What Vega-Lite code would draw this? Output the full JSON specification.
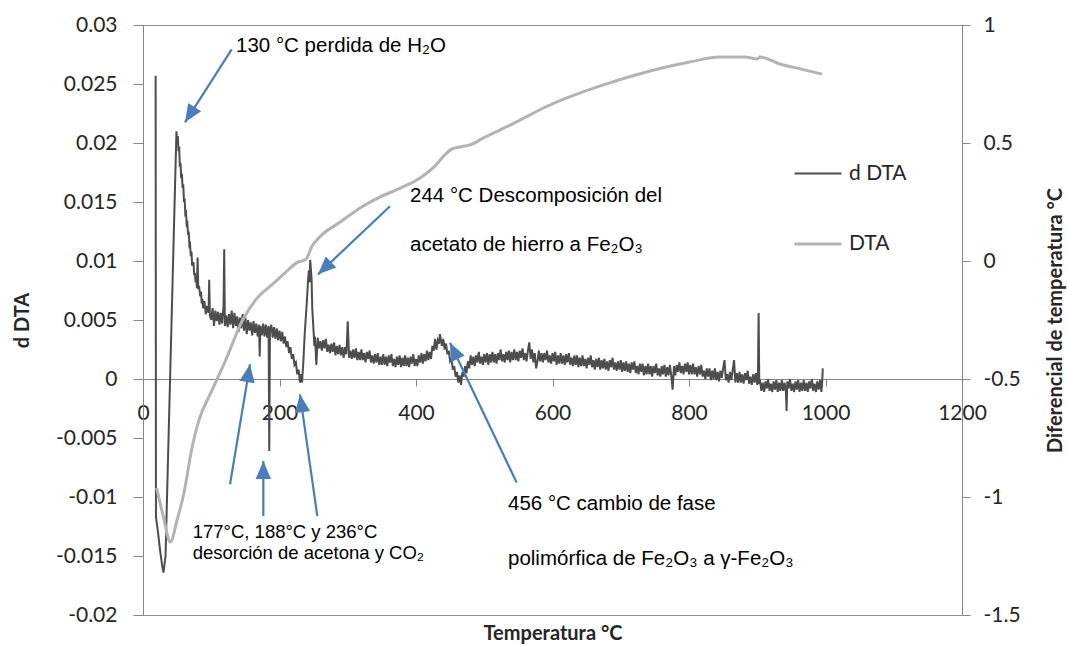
{
"$schema": "https://vega.github.io/schema/vega-lite/v6.json",
"width": 819, "height": 590,
"autosize": "none",
"padding": {"left": 143, "top": 25, "right": 105, "bottom": 30},
"background": "white",
"config": {
  "view": {"stroke": "#8c8c8c", "strokeWidth": 1},
  "font": "Lato",
  "axis": {"grid": false, "labelFont": "Lato", "labelFontSize": 21, "labelColor": "#262626", "domainColor": "#868686", "tickColor": "#868686", "titleFont": "Lato", "titleFontWeight": "bold", "titleFontSize": 20, "titleColor": "#262626", "labelOverlap": false, "labelFlush": false}
},
"datasets": {
  "ddta": [
    {"t":18.5,"d":0.0257},{"t":19,"d":-0.0117},{"t":22,"d":-0.0130},{"t":25,"d":-0.0145},{"t":28,"d":-0.0158},{"t":30,"d":-0.0164},{"t":33,"d":-0.0150},
    {"t":49,"d":0.0210},{"t":50,"d":0.0200},{"t":51,"d":0.0206},{"t":52,"d":0.0193},{"t":53,"d":0.0197},{"t":54,"d":0.0180},{"t":55,"d":0.0183},{"t":56,"d":0.0170},{"t":57,"d":0.0174},{"t":58,"d":0.0162},{"t":59,"d":0.0165},{"t":60,"d":0.0150},{"t":61,"d":0.0153},{"t":62,"d":0.0140},{"t":63,"d":0.0141},{"t":64,"d":0.0131},{"t":65,"d":0.0132},{"t":66,"d":0.0122},{"t":67,"d":0.0125},{"t":68,"d":0.0113},{"t":69,"d":0.0114},{"t":70,"d":0.0104},{"t":71,"d":0.0108},{"t":72,"d":0.0096},{"t":74,"d":0.0099},{"t":75,"d":0.0088},{"t":76,"d":0.0090},{"t":77,"d":0.0082},{"t":78,"d":0.0086},{"t":79,"d":0.0077},{"t":80,"d":0.0103},{"t":81,"d":0.0076},{"t":82,"d":0.0079},{"t":84,"d":0.0070},{"t":85,"d":0.0074},{"t":86,"d":0.0064},{"t":87,"d":0.0068},{"t":88,"d":0.0060},{"t":90,"d":0.0066},{"t":92,"d":0.0055},{"t":94,"d":0.0062},{"t":96,"d":0.0056},{"t":97,"d":0.0084},{"t":98,"d":0.0054},{"t":100,"d":0.0050},{"t":102,"d":0.0060},{"t":104,"d":0.0045},{"t":106,"d":0.0058},{"t":108,"d":0.0049},{"t":110,"d":0.0057},{"t":112,"d":0.0046},{"t":114,"d":0.0056},{"t":116,"d":0.0047},{"t":118,"d":0.0062},{"t":119,"d":0.0110},{"t":120,"d":0.0045},{"t":122,"d":0.0054},{"t":124,"d":0.0044},{"t":126,"d":0.0055},{"t":128,"d":0.0046},{"t":130,"d":0.0058},{"t":132,"d":0.0043},{"t":134,"d":0.0056},{"t":136,"d":0.0045},{"t":138,"d":0.0053},{"t":140,"d":0.0040},{"t":142,"d":0.0052},{"t":144,"d":0.0043},{"t":146,"d":0.0055},{"t":148,"d":0.0041},{"t":150,"d":0.0052},{"t":152,"d":0.0038},{"t":154,"d":0.0050},{"t":156,"d":0.0041},{"t":158,"d":0.0048},{"t":160,"d":0.0037},{"t":162,"d":0.0049},{"t":164,"d":0.0039},{"t":166,"d":0.0047},{"t":168,"d":0.0036},{"t":170,"d":0.0046},{"t":171,"d":0.0019},{"t":172,"d":0.0045},{"t":174,"d":0.0037},{"t":176,"d":0.0047},{"t":178,"d":0.0036},{"t":180,"d":0.0046},{"t":182,"d":0.0035},{"t":184,"d":0.0045},{"t":185,"d":-0.0061},{"t":186,"d":0.0040},{"t":188,"d":0.0046},{"t":190,"d":0.0035},{"t":192,"d":0.0044},{"t":194,"d":0.0034},{"t":196,"d":0.0043},{"t":198,"d":0.0033},{"t":200,"d":0.0041},{"t":202,"d":0.0032},{"t":204,"d":0.0040},{"t":206,"d":0.0030},{"t":208,"d":0.0036},{"t":210,"d":0.0027},{"t":212,"d":0.0032},{"t":214,"d":0.0022},{"t":216,"d":0.0027},{"t":218,"d":0.0017},{"t":220,"d":0.0021},{"t":222,"d":0.0012},{"t":224,"d":0.0014},{"t":226,"d":0.0004},{"t":228,"d":0.0008},{"t":230,"d":-0.0003},{"t":232,"d":0.0004},{"t":233,"d":-0.0003},{"t":235,"d":0.0015},{"t":237,"d":0.0039},{"t":240,"d":0.0065},{"t":242,"d":0.0085},{"t":243,"d":0.0092},{"t":244,"d":0.0082},{"t":245,"d":0.0101},{"t":247,"d":0.0085},{"t":248,"d":0.0060},{"t":250,"d":0.0040},{"t":251,"d":0.0028},{"t":252,"d":0.0036},{"t":254,"d":0.0012},
    {"t":256,"d":0.0035},{"t":258,"d":0.0026},{"t":260,"d":0.0032},{"t":262,"d":0.0024},{"t":264,"d":0.0033},{"t":266,"d":0.0026},{"t":268,"d":0.0034},{"t":270,"d":0.0023},{"t":272,"d":0.0029},{"t":274,"d":0.0022},{"t":276,"d":0.0030},{"t":278,"d":0.0023},{"t":280,"d":0.0031},{"t":282,"d":0.0020},{"t":284,"d":0.0028},{"t":286,"d":0.0021},{"t":288,"d":0.0029},{"t":290,"d":0.0020},{"t":292,"d":0.0027},{"t":294,"d":0.0018},{"t":296,"d":0.0027},{"t":298,"d":0.0021},{"t":300,"d":0.0049},{"t":302,"d":0.0018},{"t":304,"d":0.0024},{"t":306,"d":0.0017},{"t":308,"d":0.0025},{"t":310,"d":0.0018},{"t":312,"d":0.0026},{"t":314,"d":0.0016},{"t":316,"d":0.0023},{"t":318,"d":0.0016},{"t":320,"d":0.0025},{"t":322,"d":0.0016},{"t":324,"d":0.0022},{"t":326,"d":0.0014},{"t":328,"d":0.0023},{"t":330,"d":0.0017},{"t":332,"d":0.0024},{"t":334,"d":0.0014},{"t":336,"d":0.0020},{"t":338,"d":0.0013},{"t":340,"d":0.0021},{"t":342,"d":0.0014},{"t":344,"d":0.0022},{"t":346,"d":0.0012},{"t":348,"d":0.0019},{"t":350,"d":0.0012},{"t":352,"d":0.0021},{"t":354,"d":0.0012},{"t":356,"d":0.0019},{"t":358,"d":0.0011},{"t":360,"d":0.0020},{"t":362,"d":0.0014},{"t":364,"d":0.0021},{"t":366,"d":0.0011},{"t":368,"d":0.0017},{"t":370,"d":0.0010},{"t":372,"d":0.0019},{"t":374,"d":0.0012},{"t":376,"d":0.0020},{"t":378,"d":0.0010},{"t":380,"d":0.0018},{"t":382,"d":0.0011},{"t":384,"d":0.0020},{"t":386,"d":0.0011},{"t":388,"d":0.0018},{"t":390,"d":0.0010},{"t":392,"d":0.0019},{"t":394,"d":0.0013},{"t":396,"d":0.0021},{"t":398,"d":0.0011},{"t":400,"d":0.0017},{"t":402,"d":0.0011},{"t":404,"d":0.0020},{"t":406,"d":0.0014},{"t":408,"d":0.0022},{"t":410,"d":0.0013},{"t":412,"d":0.0021},{"t":414,"d":0.0015},{"t":416,"d":0.0024},{"t":418,"d":0.0016},{"t":420,"d":0.0023},{"t":422,"d":0.0017},{"t":424,"d":0.0028},{"t":426,"d":0.0024},{"t":428,"d":0.0034},{"t":430,"d":0.0025},{"t":432,"d":0.0033},{"t":434,"d":0.0030},{"t":435,"d":0.0038},{"t":436,"d":0.0035},{"t":438,"d":0.0028},{"t":440,"d":0.0034},{"t":442,"d":0.0025},{"t":444,"d":0.0030},{"t":446,"d":0.0021},{"t":448,"d":0.0024},{"t":450,"d":0.0015},{"t":452,"d":0.0017},{"t":454,"d":0.0008},{"t":456,"d":0.0011},{"t":458,"d":0.0002},{"t":460,"d":0.0006},{"t":462,"d":-0.0003},{"t":464,"d":0.0003},{"t":466,"d":-0.0005},{"t":468,"d":0.0006},{"t":470,"d":0.0002},{"t":472,"d":0.0011},{"t":474,"d":0.0005},{"t":476,"d":0.0015},{"t":478,"d":0.0009},{"t":480,"d":0.0020},{"t":482,"d":0.0012},{"t":484,"d":0.0019},{"t":486,"d":0.0011},{"t":488,"d":0.0020},{"t":490,"d":0.0014},{"t":492,"d":0.0023},{"t":494,"d":0.0013},{"t":496,"d":0.0019},{"t":498,"d":0.0012},{"t":500,"d":0.0021},{"t":502,"d":0.0014},{"t":504,"d":0.0022},{"t":506,"d":0.0012},{"t":508,"d":0.0021},{"t":510,"d":0.0014},{"t":512,"d":0.0023},{"t":514,"d":0.0014},{"t":516,"d":0.0021},{"t":518,"d":0.0013},{"t":520,"d":0.0022},{"t":522,"d":0.0016},{"t":524,"d":0.0025},{"t":526,"d":0.0015},{"t":528,"d":0.0021},{"t":530,"d":0.0014},{"t":532,"d":0.0023},{"t":534,"d":0.0016},{"t":536,"d":0.0024},{"t":538,"d":0.0014},{"t":540,"d":0.0023},{"t":542,"d":0.0016},{"t":544,"d":0.0025},{"t":546,"d":0.0016},{"t":548,"d":0.0023},{"t":550,"d":0.0015},{"t":552,"d":0.0024},{"t":554,"d":0.0018},{"t":556,"d":0.0026},{"t":558,"d":0.0016},{"t":560,"d":0.0022},{"t":562,"d":0.0015},{"t":564,"d":0.0024},{"t":566,"d":0.0031},{"t":568,"d":0.0017},{"t":570,"d":0.0025},{"t":572,"d":0.0014},{"t":574,"d":0.0022},{"t":576,"d":0.0009},{"t":578,"d":0.0015},{"t":580,"d":0.0024},{"t":582,"d":0.0015},{"t":584,"d":0.0022},{"t":586,"d":0.0014},{"t":588,"d":0.0022},{"t":590,"d":0.0016},{"t":592,"d":0.0024},{"t":594,"d":0.0014},{"t":596,"d":0.0020},{"t":598,"d":0.0013},{"t":600,"d":0.0022},{"t":602,"d":0.0015},{"t":604,"d":0.0023},{"t":606,"d":0.0012},{"t":608,"d":0.0020},{"t":610,"d":0.0013},{"t":612,"d":0.0022},{"t":614,"d":0.0013},{"t":616,"d":0.0020},{"t":618,"d":0.0012},{"t":620,"d":0.0021},{"t":622,"d":0.0014},{"t":624,"d":0.0022},{"t":626,"d":0.0012},{"t":628,"d":0.0018},{"t":630,"d":0.0011},{"t":632,"d":0.0020},{"t":634,"d":0.0012},{"t":636,"d":0.0020},{"t":638,"d":0.0010},{"t":640,"d":0.0018},{"t":642,"d":0.0011},{"t":644,"d":0.0020},{"t":646,"d":0.0011},{"t":648,"d":0.0017},{"t":650,"d":0.0009},{"t":652,"d":0.0018},{"t":654,"d":0.0012},{"t":656,"d":0.0020},{"t":658,"d":0.0010},{"t":660,"d":0.0016},{"t":662,"d":0.0008},{"t":664,"d":0.0017},{"t":666,"d":0.0010},{"t":668,"d":0.0018},{"t":670,"d":0.0008},{"t":672,"d":0.0016},{"t":674,"d":0.0009},{"t":676,"d":0.0017},{"t":678,"d":0.0008},{"t":680,"d":0.0015},{"t":682,"d":0.0007},{"t":684,"d":0.0016},{"t":686,"d":0.0010},{"t":688,"d":0.0018},{"t":690,"d":0.0008},{"t":692,"d":0.0014},{"t":694,"d":0.0007},{"t":696,"d":0.0015},{"t":698,"d":0.0008},{"t":700,"d":0.0016},{"t":702,"d":0.0006},{"t":704,"d":0.0014},{"t":706,"d":0.0007},{"t":708,"d":0.0015},{"t":710,"d":0.0006},{"t":712,"d":0.0013},{"t":714,"d":0.0005},{"t":716,"d":0.0014},{"t":718,"d":0.0008},{"t":720,"d":0.0015},{"t":722,"d":0.0005},{"t":724,"d":0.0011},{"t":726,"d":0.0004},{"t":728,"d":0.0013},{"t":730,"d":0.0006},{"t":732,"d":0.0013},{"t":734,"d":0.0003},{"t":736,"d":0.0011},{"t":738,"d":0.0004},{"t":740,"d":0.0013},{"t":742,"d":0.0004},{"t":744,"d":0.0011},{"t":746,"d":0.0002},{"t":748,"d":0.0011},{"t":750,"d":0.0005},{"t":752,"d":0.0013},{"t":754,"d":0.0003},{"t":756,"d":0.0009},{"t":758,"d":0.0002},{"t":760,"d":0.0011},{"t":762,"d":0.0004},{"t":764,"d":0.0012},{"t":766,"d":0.0002},{"t":768,"d":0.0010},{"t":770,"d":0.0003},{"t":772,"d":0.0012},{"t":774,"d":0.0003},{"t":776,"d":-0.0009},{"t":778,"d":0.0011},{"t":780,"d":0.0003},{"t":782,"d":0.0012},{"t":784,"d":0.0006},{"t":786,"d":0.0014},{"t":788,"d":0.0005},{"t":790,"d":0.0011},{"t":792,"d":0.0004},{"t":794,"d":0.0013},{"t":796,"d":0.0006},{"t":798,"d":0.0014},{"t":800,"d":0.0004},{"t":802,"d":0.0012},{"t":804,"d":0.0004},{"t":806,"d":0.0013},{"t":808,"d":0.0004},{"t":810,"d":0.0010},{"t":812,"d":0.0002},{"t":814,"d":0.0011},{"t":816,"d":0.0004},{"t":818,"d":0.0012},{"t":820,"d":0.0002},{"t":822,"d":0.0007},{"t":824,"d":0.0000},{"t":826,"d":0.0009},{"t":828,"d":0.0002},{"t":830,"d":0.0009},{"t":832,"d":-0.0001},{"t":834,"d":0.0007},{"t":836,"d":0.0000},{"t":838,"d":0.0009},{"t":840,"d":-0.0001},{"t":842,"d":0.0006},{"t":844,"d":-0.0002},{"t":846,"d":0.0007},{"t":848,"d":0.0001},{"t":850,"d":0.0009},{"t":852,"d":0.0016},{"t":854,"d":-0.0001},{"t":856,"d":0.0004},{"t":858,"d":-0.0003},{"t":860,"d":0.0006},{"t":862,"d":-0.0001},{"t":864,"d":0.0007},{"t":866,"d":0.0016},{"t":868,"d":-0.0003},{"t":870,"d":0.0005},{"t":872,"d":-0.0003},{"t":874,"d":0.0006},{"t":876,"d":-0.0003},{"t":878,"d":0.0004},{"t":880,"d":-0.0004},{"t":882,"d":0.0005},{"t":884,"d":-0.0001},{"t":886,"d":0.0007},{"t":888,"d":-0.0004},{"t":890,"d":0.0002},{"t":892,"d":-0.0005},{"t":894,"d":0.0004},{"t":896,"d":-0.0003},{"t":898,"d":0.0005},{"t":900,"d":-0.0005},{"t":901,"d":0.0002},{"t":902,"d":0.0056},{"t":903,"d":-0.0004},{"t":904,"d":-0.0001},{"t":906,"d":-0.0010},{"t":908,"d":-0.0003},{"t":910,"d":-0.0011},{"t":912,"d":-0.0002},{"t":914,"d":-0.0008},{"t":916,"d":0.0000},{"t":918,"d":-0.0010},{"t":920,"d":-0.0004},{"t":922,"d":-0.0011},{"t":924,"d":-0.0002},{"t":926,"d":-0.0009},{"t":928,"d":-0.0001},{"t":930,"d":-0.0011},{"t":932,"d":-0.0003},{"t":934,"d":-0.0010},{"t":936,"d":-0.0001},{"t":938,"d":-0.0010},{"t":940,"d":-0.0003},{"t":942,"d":-0.0011},{"t":943,"d":-0.0027},{"t":944,"d":-0.0002},{"t":946,"d":-0.0008},{"t":948,"d":0.0000},{"t":950,"d":-0.0010},{"t":952,"d":-0.0004},{"t":954,"d":-0.0011},{"t":956,"d":-0.0002},{"t":958,"d":-0.0009},{"t":960,"d":-0.0001},{"t":962,"d":-0.0011},{"t":964,"d":-0.0003},{"t":966,"d":-0.0010},{"t":968,"d":-0.0001},{"t":970,"d":-0.0010},{"t":972,"d":-0.0003},{"t":974,"d":-0.0011},{"t":976,"d":-0.0002},{"t":978,"d":-0.0008},{"t":980,"d":0.0000},{"t":982,"d":-0.0010},{"t":984,"d":-0.0004},{"t":986,"d":-0.0011},{"t":988,"d":-0.0002},{"t":990,"d":-0.0009},{"t":992,"d":-0.0001},{"t":994,"d":-0.0011},{"t":995,"d":-0.0004},{"t":996,"d":0.0009}
  ],
  "dta": [
    {"t":20,"v":-0.962},{"t":30,"v":-1.085},{"t":40,"v":-1.191},{"t":50,"v":-1.097},{"t":60,"v":-0.983},{"t":72,"v":-0.788},{"t":82,"v":-0.674},{"t":100,"v":-0.555},{"t":120,"v":-0.428},{"t":146,"v":-0.250},{"t":165,"v":-0.165},{"t":192,"v":-0.093},{"t":210,"v":-0.045},{"t":225,"v":-0.008},{"t":239,"v":0.008},{"t":247,"v":0.059},{"t":259,"v":0.102},{"t":289,"v":0.165},{"t":318,"v":0.225},{"t":347,"v":0.271},{"t":377,"v":0.309},{"t":406,"v":0.352},{"t":428,"v":0.403},{"t":442,"v":0.449},{"t":453,"v":0.475},{"t":464,"v":0.483},{"t":479,"v":0.492},{"t":501,"v":0.525},{"t":538,"v":0.576},{"t":596,"v":0.661},{"t":670,"v":0.742},{"t":743,"v":0.805},{"t":801,"v":0.843},{"t":845,"v":0.864},{"t":882,"v":0.864},{"t":900,"v":0.856},{"t":904,"v":0.864},{"t":933,"v":0.835},{"t":963,"v":0.814},{"t":995,"v":0.792}
  ],
  "arrows": [
    {"t":130,"d":0.02794,"t2":61.5,"d2":0.02175},
    {"t":361.9,"d":0.01464,"t2":256.4,"d2":0.00887},
    {"t":127.5,"d":-0.00892,"t2":156.8,"d2":0.00125},
    {"t":176.3,"d":-0.01161,"t2":176.3,"d2":-0.00695},
    {"t":255.4,"d":-0.01161,"t2":230.0,"d2":-0.0013},
    {"t":547.5,"d":-0.00878,"t2":449.8,"d2":0.00308}
  ],
  "heads": [
    {"t":61.5,"d":0.02175,"dir":212.6},
    {"t":256.4,"d":0.00887,"dir":226.6},
    {"t":156.8,"d":0.00125,"dir":9.5},
    {"t":176.3,"d":-0.00695,"dir":0},
    {"t":230.0,"d":-0.0013,"dir":351.9},
    {"t":449.8,"d":0.00308,"dir":334.5}
  ],
  "notes": [
    {"t":136.3,"d":0.02819,"label":"130 °C perdida de H₂O"},
    {"t":391.2,"d":0.01548,"label":"244 °C Descomposición del"},
    {"t":391.2,"d":0.01133,"label":"acetato de hierro a Fe₂O₃"},
    {"t":534.8,"d":-0.01062,"label":"456 °C cambio de fase"},
    {"t":534.8,"d":-0.01528,"label":"polimórfica de  Fe₂O₃ a γ-Fe₂O₃"}
  ],
  "notes2": [
    {"t":72.8,"d":-0.01299,"label":"177°C, 188°C y 236°C"},
    {"t":72.8,"d":-0.01471,"label":"desorción de acetona y CO₂"}
  ]
},
"encoding": {
  "x": {"field": "t", "type": "quantitative", "scale": {"domain": [0, 1200], "nice": false, "zero": false},
        "axis": {"title": "Temperatura °C", "offset": -236, "values": [0,200,400,600,800,1000,1200], "labelExpr": "'' + datum.value", "tickSize": 7, "labelPadding": 16, "titleY": 254, "titleBaseline": "middle", "titleAlign": "center"}}
},
"layer": [
  {
    "encoding": {
      "y": {"field": "d", "type": "quantitative", "scale": {"domain": [-0.02, 0.03], "nice": false, "zero": false},
            "axis": {"title": "d DTA", "values": [-0.02,-0.015,-0.01,-0.005,0,0.005,0.01,0.015,0.02,0.025,0.03], "labelExpr": "'' + datum.value", "tickSize": 10, "labelPadding": 16, "titleAngle": 270, "titleX": -121, "titleY": 295, "titleAlign": "center", "titleBaseline": "middle"}}
    },
    "layer": [
      {
        "data": {"name": "ddta"},
        "mark": {"type": "line", "strokeWidth": 2},
        "encoding": {
          "color": {"datum": "d DTA", "scale": {"domain": ["d DTA", "DTA"], "range": ["#4d4d4d", "#b3b3b3"]},
                    "legend": {"orient": "none", "legendX": 650, "legendY": 124, "title": null, "symbolType": "stroke", "symbolSize": 2209, "labelFont": "Lato", "labelFontSize": 21, "labelColor": "#262626", "labelOffset": 6, "rowPadding": 35, "padding": 0}},
          "strokeWidth": {"datum": "d DTA", "scale": {"domain": ["d DTA", "DTA"], "range": [2, 3]}, "legend": {"orient": "none", "legendX": 650, "legendY": 124, "title": null, "symbolType": "stroke", "symbolSize": 2209, "labelFont": "Lato", "labelFontSize": 21, "labelColor": "#262626", "labelOffset": 6, "rowPadding": 35, "padding": 0}}
        }
      },
      {
        "data": {"name": "arrows"},
        "mark": {"type": "rule", "color": "#4a7ebb", "strokeWidth": 2.2},
        "encoding": {
          "x2": {"field": "t2"},
          "y2": {"field": "d2"}
        }
      },
      {
        "data": {"name": "heads"},
        "mark": {"type": "point", "shape": "M0,0L0.85,2L-0.85,2Z", "size": 324, "filled": true, "fill": "#4a7ebb", "strokeWidth": 0, "opacity": 1},
        "encoding": {
          "angle": {"field": "dir", "type": "quantitative", "scale": null}
        }
      },
      {
        "data": {"name": "notes"},
        "mark": {"type": "text", "align": "left", "baseline": "middle", "font": "Liberation Sans", "fontSize": 20.5, "color": "#000000"},
        "encoding": {
          "text": {"field": "label"}
        }
      },
      {
        "data": {"name": "notes2"},
        "mark": {"type": "text", "align": "left", "baseline": "middle", "font": "Liberation Sans", "fontSize": 18.5, "color": "#000000"},
        "encoding": {
          "text": {"field": "label"}
        }
      }
    ]
  },
  {
    "data": {"name": "dta"},
    "mark": {"type": "line", "strokeWidth": 3, "interpolate": "monotone"},
    "encoding": {
      "y": {"field": "v", "type": "quantitative", "scale": {"domain": [-1.5, 1], "nice": false, "zero": false},
            "axis": {"orient": "right", "title": "Diferencial de temperatura °C", "values": [-1.5,-1,-0.5,0,0.5,1], "labelExpr": "'' + datum.value", "tickSize": 8, "labelPadding": 13, "titleAngle": 270, "titleX": 93, "titleY": 295, "titleAlign": "center", "titleBaseline": "middle"}},
      "color": {"datum": "DTA"},
      "strokeWidth": {"datum": "DTA"}
    }
  }
],
"resolve": {"scale": {"y": "independent"}}
}
